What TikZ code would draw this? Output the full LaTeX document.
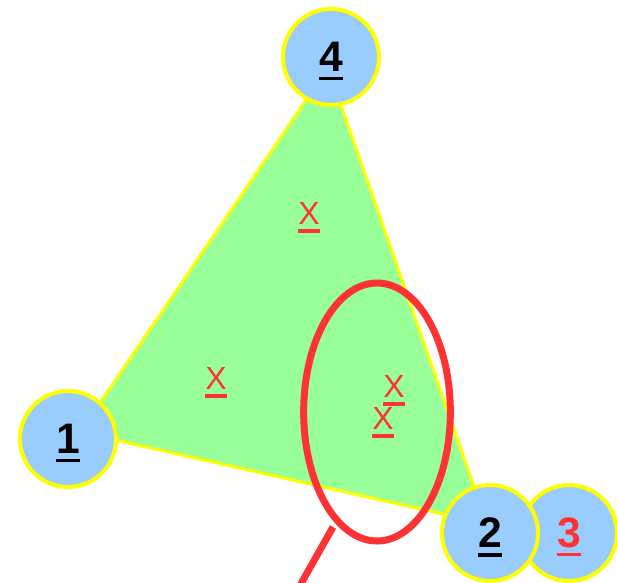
\documentclass[tikz,border=0pt]{standalone}
\usepackage{fontspec}
\setmainfont{Liberation Sans}
\usepackage{tikz}
\usetikzlibrary{shapes.geometric}

\definecolor{nodeblue}{RGB}{153,204,255}
\definecolor{areagreen}{RGB}{153,255,153}
\definecolor{markred}{RGB}{255,51,51}
\definecolor{rimyellow}{RGB}{255,255,0}

% underlined label, rule kept out of the box
\newcommand{\uln}[1]{\sbox0{#1}\usebox0\llap{\smash{\rule[-6.5pt]{\wd0}{2.8pt}}}}

\begin{document}
\begin{tikzpicture}[
    x=0.75pt, y=-0.75pt,
    vertex/.style={circle, draw=rimyellow, fill=nodeblue, line width=3pt, minimum size=72pt, inner sep=0pt, font=\bfseries\fontsize{32}{36}\selectfont},
    area/.style={draw=rimyellow, fill=areagreen, line width=2.25pt, line join=miter},
    cross/.style={text=markred, inner sep=0pt, font=\fontsize{24}{28}\selectfont},
    oval/.style={ellipse, draw=markred, line width=5.25pt, minimum width=110pt, minimum height=193.5pt, inner sep=0pt},
    pointer/.style={draw=markred, line width=5.25pt}
]
    \useasboundingbox (0,0) rectangle (617,582);

    % triangle
    \coordinate (t1) at (80,432);
    \coordinate (t4) at (328,68);
    \coordinate (t2) at (487,524);
    \draw [area] (t1) -- (t4) -- (t2) -- cycle;

    \node (xtop) [cross] at (309,213) {\uln{X}};
    \node (xleft) [cross] at (216,378) {\uln{X}};
    \node (xin1) [cross] at (394,386) {\uln{X}};
    \node (xin2) [cross] at (383,418) {\uln{X}};

    % marked region
    \node (ring) [oval] at (377,412) {};
    \coordinate (tailstart) at (333,527);
    \coordinate (tailend) at (298,589);
    \draw [pointer] (tailstart) -- (tailend);

    \node (n1) [vertex] at (68,439) {\uln{1}};
    \node (n4) [vertex] at (331,57) {\uln{4}};
    \node (n3) [vertex, text=markred] at (569,533) {\uln{3}};
    \node (n2) [vertex] at (490,533) {\uln{2}};
\end{tikzpicture}
\end{document}
